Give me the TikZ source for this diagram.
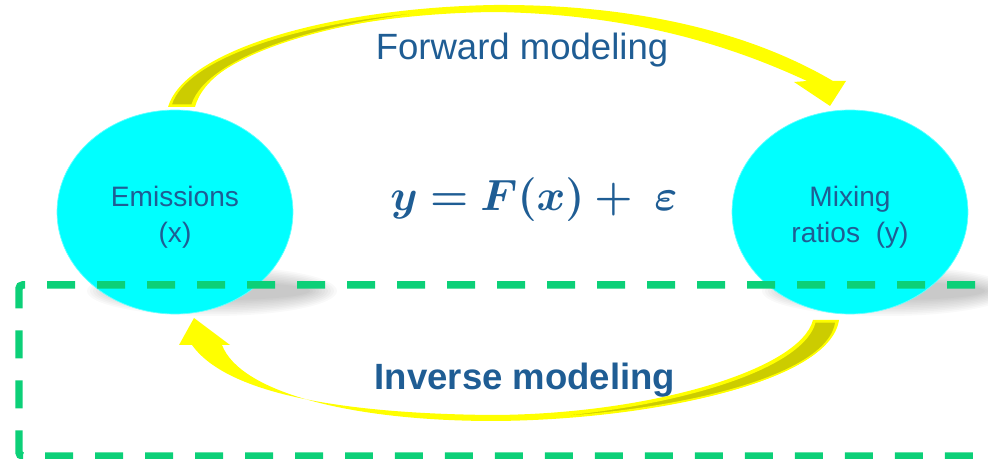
\documentclass[tikz,border=0pt]{standalone}
\usepackage{fontspec}
\usepackage{bm}
\usetikzlibrary{shapes.geometric}
\setmainfont{Liberation Sans}
\definecolor{txtblue}{RGB}{31,93,148}
\definecolor{bubcyan}{RGB}{0,255,255}
\definecolor{arryellow}{RGB}{255,255,0}
\definecolor{arrolive}{RGB}{204,204,0}
\definecolor{boxgreen}{RGB}{12,208,120}
\begin{document}
\begin{tikzpicture}[x=0.02cm,y=-0.02cm,
 bubble/.style={ellipse,fill=bubcyan,draw=bubcyan!60!white,line width=0.4pt,minimum width=4.72cm,minimum height=4.08cm,inner sep=0pt,
  align=center,text=txtblue,font=\fontsize{16}{20.5}\selectfont},
 lab/.style={text=txtblue,font=\fontsize{20.8}{25}\selectfont},
 ribbon/.style={fill=arryellow},
 under/.style={fill=arrolive,draw=arryellow,line width=0.8pt}]
\useasboundingbox (0,0) rectangle (988,459);
\foreach \k in {0,...,9}{
  \fill[black,opacity=0.025] (212,291) ellipse [x radius=2.5cm-\k*0.06cm, y radius=0.5cm-\k*0.035cm];
  \fill[black,opacity=0.025] (887,291) ellipse [x radius=2.5cm-\k*0.06cm, y radius=0.5cm-\k*0.035cm];
}
\node[bubble] (emis) at (175,212) {\strut\\[-17pt]Emissions\\(x)};
\node[bubble] (mix) at (850,212) {\strut\\[-17pt]Mixing\\ratios~~(y)};
\draw[boxgreen,line width=0.15cm,dash pattern=on 0.56cm off 0.44cm,dash phase=0.3cm,rounded corners=2pt]
  (1010,285) -- (19,285) -- (19,456) -- (1010,456);
\node[lab] (fwd) at (522,50) {Forward modeling};
\node[lab,font=\fontsize{20.8}{25}\selectfont\bfseries] (inv) at (525,380) {Inverse modeling};
\node[text=txtblue,font=\fontsize{23.5}{28}\selectfont] (eq) at (534,200) {$\bm{y=F(x)+\;\varepsilon}$};
\fill[ribbon] (168,107) .. controls (185,50) and (330,8) .. (494,5) .. controls (650,4) and (760,38) .. (833,81)
  -- (846,81) -- (830,106) -- (794,82) -- (807,81) .. controls (740,50) and (640,14) .. (494,12)
  .. controls (340,14) and (210,50) .. (195,107) -- cycle;
\filldraw[under] (171,105) .. controls (187,52) and (330,12) .. (480,9) .. controls (340,15) and (208,54) .. (192,105) -- cycle;
\fill[ribbon] (813,320) -- (839,320) .. controls (830,382) and (650,420) .. (494,421) .. controls (350,421) and (240,392) .. (222,345)
  -- (230,345) -- (194,318) -- (179,345) -- (192,345) .. controls (230,398) and (360,414) .. (494,415)
  .. controls (650,414) and (800,370) .. (813,320) -- cycle;
\filldraw[under] (815,322) -- (836,322) .. controls (828,380) and (660,416) .. (510,419) .. controls (660,412) and (802,372) .. (815,322) -- cycle;
\end{tikzpicture}
\end{document}
